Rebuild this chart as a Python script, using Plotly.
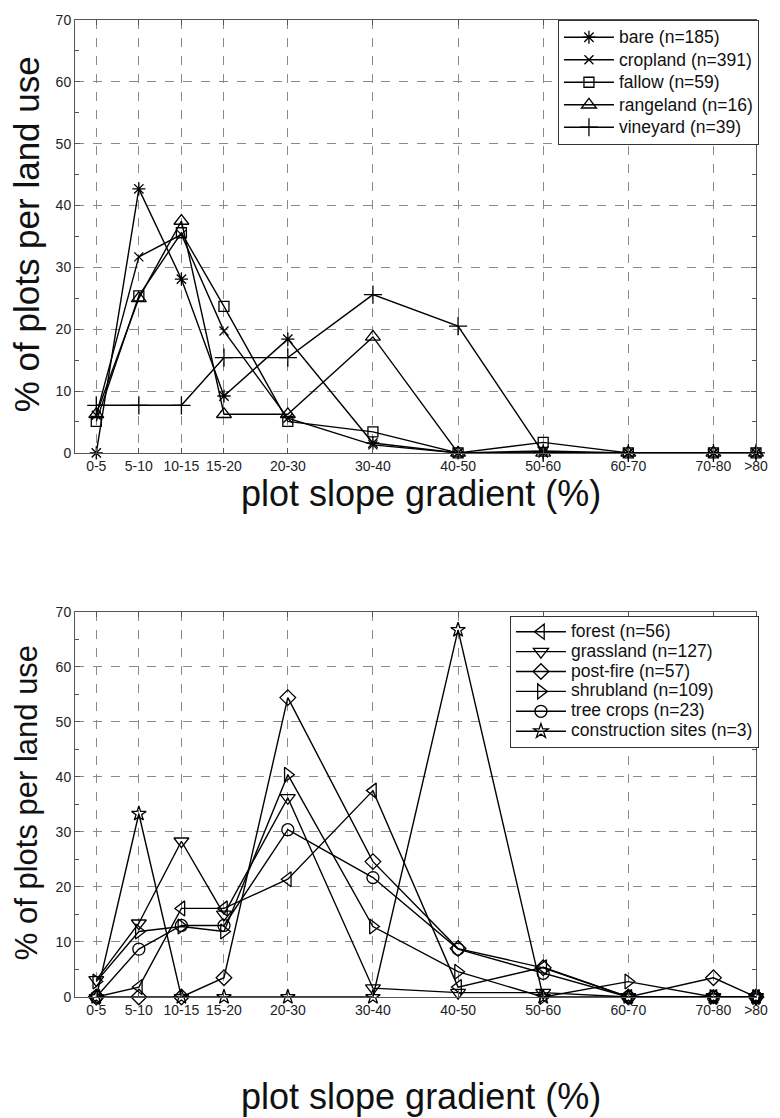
import plotly.graph_objects as go
from plotly.subplots import make_subplots

# Slope classes (labels) and the class centres used on the numeric x axis
slope_classes = ["0-5", "5-10", "10-15", "15-20", "20-30", "30-40",
                 "40-50", "50-60", "60-70", "70-80", ">80"]
slope_mid = [2.5, 7.5, 12.5, 17.5, 25, 35, 45, 55, 65, 75, 80]

# % of plots per land use in each slope class – upper panel
bare      = [0.0, 42.7, 28.1, 9.2, 18.4, 1.6, 0.0, 0.0, 0.0, 0.0, 0.0]
cropland  = [6.1, 31.7, 35.3, 19.7, 5.6, 1.3, 0.0, 0.3, 0.0, 0.0, 0.0]
fallow    = [5.1, 25.4, 35.6, 23.7, 5.1, 3.4, 0.0, 1.7, 0.0, 0.0, 0.0]
rangeland = [6.25, 25.0, 37.5, 6.25, 6.25, 18.75, 0.0, 0.0, 0.0, 0.0, 0.0]
vineyard  = [7.7, 7.7, 7.7, 15.4, 15.4, 25.6, 20.5, 0.0, 0.0, 0.0, 0.0]

# lower panel
forest       = [0.0, 1.8, 16.1, 16.1, 21.4, 37.5, 1.8, 5.4, 0.0, 0.0, 0.0]
grassland    = [3.1, 13.4, 28.3, 15.0, 36.2, 1.6, 0.8, 0.8, 0.0, 0.0, 0.0]
post_fire    = [0.0, 0.0, 0.0, 3.5, 54.4, 24.6, 8.8, 5.3, 0.0, 3.5, 0.0]
shrubland    = [2.8, 11.9, 12.8, 11.9, 40.4, 12.8, 4.6, 0.0, 2.8, 0.0, 0.0]
tree_crops   = [0.0, 8.7, 13.0, 13.0, 30.4, 21.7, 8.7, 4.3, 0.0, 0.0, 0.0]
construction = [0.0, 33.3, 0.0, 0.0, 0.0, 0.0, 66.7, 0.0, 0.0, 0.0, 0.0]

top_series = [
    ("bare (n=185)", bare, "asterisk-open", 11),
    ("cropland (n=391)", cropland, "x-thin-open", 9),
    ("fallow (n=59)", fallow, "square-open", 10),
    ("rangeland (n=16)", rangeland, "triangle-up-open", 13),
    ("vineyard (n=39)", vineyard, "cross-thin-open", 13),
]
bottom_series = [
    ("forest (n=56)", forest, "triangle-left-open", 13),
    ("grassland (n=127)", grassland, "triangle-down-open", 13),
    ("post-fire (n=57)", post_fire, "diamond-open", 12),
    ("shrubland (n=109)", shrubland, "triangle-right-open", 13),
    ("tree crops (n=23)", tree_crops, "circle-open", 12),
    ("construction sites (n=3)", construction, "star-open", 11),
]

H = 1118
ml, mr, mt, mb = 75, 12, 13, 121
ph = H - mt - mb


def py(pix):
    """pixel row -> paper y"""
    return (H - mb - pix) / ph


def px(pix):
    return (pix - ml) / (780 - ml - mr)


def big(label):
    # legend label drawn larger than the row height font
    return f'<span style="font-size:17.5px">{label}</span>'


fig = make_subplots(rows=2, cols=1)
fig.update_layout(
    yaxis=dict(domain=[py(449), 1.0]),
    yaxis2=dict(domain=[0.0, py(609)]),
)

for name, vals, sym, sz in top_series:
    fig.add_trace(go.Scatter(
        x=slope_mid, y=vals, name=big(name), mode="lines+markers",
        line=dict(color="black", width=1.4),
        marker=dict(symbol=sym, size=sz, color="black",
                    line=dict(color="black", width=1.3)),
        cliponaxis=False, legend="legend"), row=1, col=1)

for name, vals, sym, sz in bottom_series:
    fig.add_trace(go.Scatter(
        x=slope_mid, y=vals, name=big(name), mode="lines+markers",
        line=dict(color="black", width=1.4),
        marker=dict(symbol=sym, size=sz, color="black",
                    line=dict(color="black", width=1.3)),
        cliponaxis=False, legend="legend2"), row=2, col=1)

grid = dict(showgrid=True, gridcolor="#8a8a8a", griddash="dash", gridwidth=1,
            showline=True, linecolor="#555555", linewidth=1, mirror="ticks",
            ticks="inside", tickcolor="#555555", ticklen=5, zeroline=False)

tick_font = dict(family="Liberation Sans, Arial", size=14, color="#222")
for r in (1, 2):
    fig.update_xaxes(range=[0, 80], tickvals=slope_mid, ticktext=slope_classes,
                     tickfont=tick_font, **grid, row=r, col=1)
    fig.update_yaxes(range=[0, 70], dtick=10, tickfont=tick_font,
                     minor=dict(dtick=5, ticks="inside", ticklen=4, tickcolor="#555555",
                                showgrid=False),
                     **grid, row=r, col=1)


def tfont(size):
    return dict(family="Liberation Sans, Arial", size=size, color="#111")


annotations = [
    dict(text="% of plots per land use", x=px(26), y=py(229), xref="paper", yref="paper",
         textangle=-90, showarrow=False, font=tfont(35), xanchor="center", yanchor="middle"),
    dict(text="% of plots per land use", x=px(26), y=py(801), xref="paper", yref="paper",
         textangle=-90, showarrow=False, font=tfont(31), xanchor="center", yanchor="middle"),
    dict(text="plot slope gradient (%)", x=px(427), y=py(490), xref="paper", yref="paper",
         showarrow=False, xanchor="center", yanchor="middle", font=tfont(36)),
    dict(text="plot slope gradient (%)", x=px(427), y=py(1097), xref="paper", yref="paper",
         showarrow=False, xanchor="center", yanchor="middle", font=tfont(36)),
]

legend_common = dict(bgcolor="white", bordercolor="#333", borderwidth=1,
                     itemwidth=50, xanchor="right", yanchor="top", tracegroupgap=0)

fig.update_layout(
    width=780, height=H,
    margin=dict(l=ml, r=mr, t=mt, b=mb),
    paper_bgcolor="white", plot_bgcolor="white",
    showlegend=True,
    legend=dict(x=px(771), y=py(13),
                font=dict(family="Liberation Sans, Arial", size=15, color="#111"),
                **legend_common),
    legend2=dict(x=px(771), y=py(613),
                 font=dict(family="Liberation Sans, Arial", size=13, color="#111"),
                 **legend_common),
    annotations=annotations,
)

fig.write_html("out.html")
